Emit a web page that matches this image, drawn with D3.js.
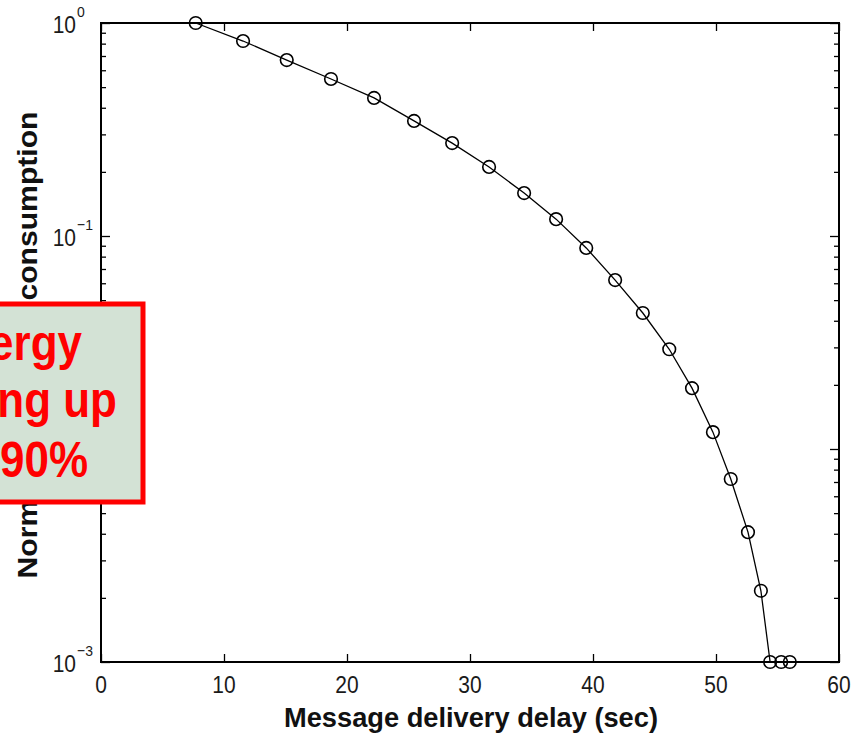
<!DOCTYPE html>
<html>
<head>
<meta charset="utf-8">
<script src="https://cdn.jsdelivr.net/npm/d3@7"></script>
<style>
  body { margin: 0; background: #fff; }
  text { font-family: "Liberation Sans", Arial, Helvetica, sans-serif; }
</style>
</head>
<body>
<div id="chart"></div>
<script>
// delay (sec) vs normalized energy consumption
var delays = [7.7, 11.55, 15.1, 18.7, 22.2, 25.45, 28.55, 31.55, 34.4, 37.0, 39.45, 41.8,
              44.05, 46.2, 48.05, 49.75, 51.2, 52.6, 53.65, 54.4, 55.3, 56.0];
var energy = [1.0, 0.823, 0.670, 0.546, 0.445, 0.347, 0.273, 0.211, 0.159, 0.120, 0.0879,
              0.0621, 0.0435, 0.0294, 0.0193, 0.0120, 0.00723, 0.00407, 0.00216, 0.001, 0.001, 0.001];

var xTicks = [0, 10, 20, 30, 40, 50, 60];
var yDecades = [0, -1, -2, -3];
var noteLines = ["ergy", "ng up", "90%"];

var xTitle = "Message delivery delay (sec)";
var yTitle = "Normalized energy consumption";

var width = 852, height = 735;
// plot box edges (note: "top" is taken by window.top)
var plotL = 101, plotR = 839, plotT = 23, plotB = 662;

var svg = d3.select("#chart").append("svg")
    .attr("width", width)
    .attr("height", height);

svg.append("rect").attr("width", width).attr("height", height).attr("fill", "#fff");

var x = d3.scaleLinear().domain([0, 60]).range([plotL, plotR]);
var y = d3.scaleLog().domain([1e-3, 1]).range([plotB, plotT]);

var majorY = yDecades.map(function(d){ return Math.pow(10, d); });
var minorY = [];
[-3, -2, -1].forEach(function(d){
    for (var k = 2; k <= 9; k++) minorY.push(k * Math.pow(10, d));
});

// inward ticks on all four sides, matlab style
function tickAxis(g, axis){
    g.call(axis);
    g.select(".domain").remove();
    g.selectAll("line").attr("stroke", "#000").attr("stroke-width", 1.3);
}

svg.append("g").attr("transform", "translate(0," + plotB + ")")
    .call(tickAxis, d3.axisBottom(x).tickValues(xTicks).tickSize(-8).tickFormat(""));
svg.append("g").attr("transform", "translate(0," + plotT + ")")
    .call(tickAxis, d3.axisTop(x).tickValues(xTicks).tickSize(-8).tickFormat(""));
svg.append("g").attr("transform", "translate(" + plotL + ",0)")
    .call(tickAxis, d3.axisLeft(y).tickValues(majorY).tickSize(-9).tickFormat(""));
svg.append("g").attr("transform", "translate(" + plotL + ",0)")
    .call(tickAxis, d3.axisLeft(y).tickValues(minorY).tickSize(-5).tickFormat(""));
svg.append("g").attr("transform", "translate(" + plotR + ",0)")
    .call(tickAxis, d3.axisRight(y).tickValues(majorY).tickSize(-9).tickFormat(""));
svg.append("g").attr("transform", "translate(" + plotR + ",0)")
    .call(tickAxis, d3.axisRight(y).tickValues(minorY).tickSize(-5).tickFormat(""));

svg.append("rect")
    .attr("x", plotL).attr("y", plotT)
    .attr("width", plotR - plotL).attr("height", plotB - plotT)
    .attr("fill", "none").attr("stroke", "#000").attr("stroke-width", 2);

// text is slightly stretched vertically in the original
function stretchedText(parent, px, py, str, size, anchor, sy){
    return parent.append("text")
        .attr("transform", "translate(" + px + "," + py + ") scale(1," + sy + ")")
        .attr("text-anchor", anchor)
        .attr("font-size", size)
        .text(str);
}

var labels = svg.append("g").attr("fill", "#1a1a1a");

xTicks.forEach(function(t){
    stretchedText(labels, x(t), plotB + 31, String(t), 21, "middle", 1.1);
});

yDecades.forEach(function(d){
    var py = y(Math.pow(10, d));
    stretchedText(labels, 76, py + 10, "10", 21, "end", 1.12);
    stretchedText(labels, 77, py - 6, d === 0 ? "0" : "\u2212" + (-d), 14, "start", 1.1);
});

// series
var pts = delays.map(function(d, i){ return [d, energy[i]]; });

svg.append("path")
    .datum(pts)
    .attr("fill", "none")
    .attr("stroke", "#000")
    .attr("stroke-width", 1.3)
    .attr("d", d3.line().x(function(d){ return x(d[0]); }).y(function(d){ return y(d[1]); }));

svg.append("g").selectAll("circle")
    .data(pts)
    .enter().append("circle")
    .attr("cx", function(d){ return x(d[0]); })
    .attr("cy", function(d){ return y(d[1]); })
    .attr("r", 6.3)
    .attr("fill", "none")
    .attr("stroke", "#000")
    .attr("stroke-width", 1.6);

// axis titles
svg.append("text")
    .attr("x", 471).attr("y", 727)
    .attr("text-anchor", "middle")
    .attr("font-size", 28)
    .attr("font-weight", "bold")
    .attr("fill", "#111")
    .attr("textLength", 374)
    .attr("lengthAdjust", "spacingAndGlyphs")
    .text(xTitle);

svg.append("text")
    .attr("transform", "translate(37,345) rotate(-90)")
    .attr("text-anchor", "middle")
    .attr("font-size", 27)
    .attr("font-weight", "bold")
    .attr("fill", "#111")
    .attr("textLength", 467)
    .attr("lengthAdjust", "spacingAndGlyphs")
    .text(yTitle);

// annotation box, cut off by the left edge
var note = svg.append("g");
note.append("rect")
    .attr("x", -10).attr("y", 304)
    .attr("width", 153).attr("height", 198)
    .attr("fill", "#d3e2d5")
    .attr("stroke", "#ff0000")
    .attr("stroke-width", 5);

var noteRight = [82, 117, 88];
var noteBase = [360, 417, 477];
noteLines.forEach(function(s, i){
    stretchedText(note, noteRight[i], noteBase[i], s, 44, "end", 1.12)
        .attr("font-weight", "bold")
        .attr("fill", "#ff0000");
});
</script>
</body>
</html>
